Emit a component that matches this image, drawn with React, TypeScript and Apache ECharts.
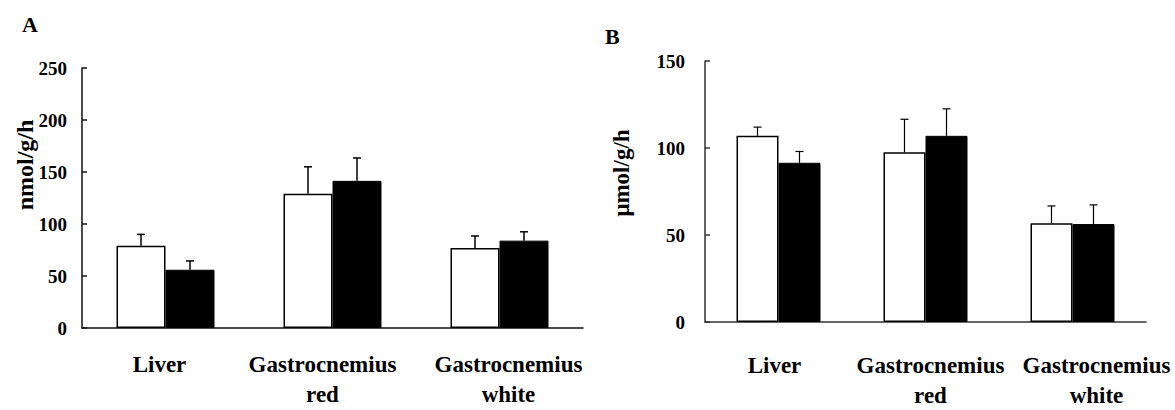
import React, { useEffect, useRef } from "react";
import * as echarts from "echarts";

const categories = ["Liver", "Gastrocnemius\nred", "Gastrocnemius\nwhite"];

// Panel A (nmol/g/h)
const aWhite = [79, 129, 77];
const aWhiteSem = [11, 26, 11.5];
const aBlack = [56, 141.5, 84];
const aBlackSem = [8.5, 22, 8.5];

// Panel B (µmol/g/h)
const bWhite = [107, 97.5, 56.7];
const bWhiteSem = [5, 19, 10];
const bBlack = [91.5, 107, 56.3];
const bBlackSem = [6.5, 15.5, 11];

const aTicks = { min: 0, max: 250, interval: 50 };
const bTicks = { min: 0, max: 150, interval: 50 };

const FONT = "Liberation Serif";

function errData(means: number[], sems: number[]) {
  return means.map((m, i) => [i, m, sems[i]]);
}

function errSeries(idx: number, means: number[], sems: number[], offset: number, lw: number) {
  return {
    type: "custom",
    xAxisIndex: idx,
    yAxisIndex: idx,
    z: 5,
    data: errData(means, sems),
    encode: { x: 0, y: 1 },
    renderItem: (params: any, api: any) => {
      const cat = api.value(0);
      const mean = api.value(1);
      const sem = api.value(2);
      const base = api.coord([cat, mean]);
      const top = api.coord([cat, mean + sem]);
      const x = base[0] + offset;
      const style = { stroke: "#000", lineWidth: lw };
      return {
        type: "group",
        children: [
          { type: "line", shape: { x1: x, y1: base[1], x2: x, y2: top[1] }, style },
          { type: "line", shape: { x1: x - 4, y1: top[1], x2: x + 4, y2: top[1] }, style },
        ],
      };
    },
  };
}

export default function App() {
  const ref = useRef<HTMLDivElement>(null);
  useEffect(() => {
    if (!ref.current) return;
    const chart = echarts.init(ref.current, undefined, { renderer: "svg" });
    const axisLabelY = { color: "#000", fontFamily: FONT, fontWeight: "bold", fontSize: 19 };
    const catLabel = (margin: number) => ({
      interval: 0,
      margin,
      color: "#000",
      fontFamily: FONT,
      fontWeight: "bold",
      fontSize: 23,
      lineHeight: 30,
    });
    const catData = (shifts: number[]) =>
      categories.map((c, i) => ({
        value: c,
        textStyle:
          shifts[i] >= 0
            ? { padding: [0, 0, 0, shifts[i] * 2] }
            : { padding: [0, -shifts[i] * 2, 0, 0] },
      }));
    const bwA = 49;
    const bwB = 42;
    chart.setOption({
      animation: false,
      backgroundColor: "#fff",
      grid: [
        { left: 82, top: 68, width: 501, height: 260 },
        { left: 705, top: 61, width: 441, height: 262 },
      ],
      xAxis: [
        {
          type: "category",
          gridIndex: 0,
          data: catData([-6, -10, 9]),
          axisLine: { lineStyle: { color: "#111", width: 1.5 } },
          axisTick: { show: false },
          axisLabel: catLabel(21),
        },
        {
          type: "category",
          gridIndex: 1,
          data: catData([-4, 5, 24]),
          axisLine: { lineStyle: { color: "#333", width: 1.5 } },
          axisTick: { show: false },
          axisLabel: catLabel(28),
        },
      ],
      yAxis: [
        {
          type: "value",
          gridIndex: 0,
          ...aTicks,
          axisLine: { show: true, lineStyle: { color: "#111", width: 1.5 } },
          axisTick: { show: true, inside: true, length: 5, lineStyle: { color: "#111", width: 1.5 } },
          splitLine: { show: false },
          axisLabel: { ...axisLabelY, margin: 15 },
        },
        {
          type: "value",
          gridIndex: 1,
          ...bTicks,
          axisLine: { show: true, lineStyle: { color: "#333", width: 1.5 } },
          axisTick: { show: true, inside: true, length: 5, lineStyle: { color: "#333", width: 1.5 } },
          splitLine: { show: false },
          axisLabel: { ...axisLabelY, margin: 20 },
        },
      ],
      graphic: [
        { type: "text", left: 22, top: 13, style: { text: "A", fontFamily: FONT, fontWeight: "bold", fontSize: 22, fill: "#000" } },
        { type: "text", left: 605, top: 25, style: { text: "B", fontFamily: FONT, fontWeight: "bold", fontSize: 22, fill: "#000" } },
        {
          type: "text",
          x: 25,
          y: 165,
          rotation: Math.PI / 2,
          style: { text: "nmol/g/h", fontFamily: FONT, fontWeight: "bold", fontSize: 24, fill: "#000", align: "center", verticalAlign: "middle" },
        },
        {
          type: "text",
          x: 621,
          y: 173,
          rotation: Math.PI / 2,
          style: { text: "\u03bcmol/g/h", fontFamily: FONT, fontWeight: "bold", fontSize: 23, fill: "#000", align: "center", verticalAlign: "middle" },
        },
      ],
      series: [
        {
          type: "bar",
          xAxisIndex: 0,
          yAxisIndex: 0,
          data: aWhite,
          barWidth: bwA,
          barGap: "0%",
          itemStyle: { color: "#fff", borderColor: "#000", borderWidth: 1.5 },
        },
        {
          type: "bar",
          xAxisIndex: 0,
          yAxisIndex: 0,
          data: aBlack,
          barWidth: bwA,
          barGap: "0%",
          itemStyle: { color: "#000", borderColor: "#000", borderWidth: 1 },
        },
        {
          type: "bar",
          xAxisIndex: 1,
          yAxisIndex: 1,
          data: bWhite,
          barWidth: bwB,
          barGap: "0%",
          itemStyle: { color: "#fff", borderColor: "#000", borderWidth: 1.5 },
        },
        {
          type: "bar",
          xAxisIndex: 1,
          yAxisIndex: 1,
          data: bBlack,
          barWidth: bwB,
          barGap: "0%",
          itemStyle: { color: "#000", borderColor: "#000", borderWidth: 1 },
        },
        errSeries(0, aWhite, aWhiteSem, -bwA / 2, 1.5),
        errSeries(0, aBlack, aBlackSem, bwA / 2, 1.5),
        errSeries(1, bWhite, bWhiteSem, -bwB / 2, 1.2),
        errSeries(1, bBlack, bBlackSem, bwB / 2, 1.2),
      ],
    });
    return () => chart.dispose();
  }, []);
  return (
    <div
      ref={ref}
      style={{ position: "fixed", left: 0, top: 0, width: 1175, height: 410, background: "#fff" }}
    />
  );
}
